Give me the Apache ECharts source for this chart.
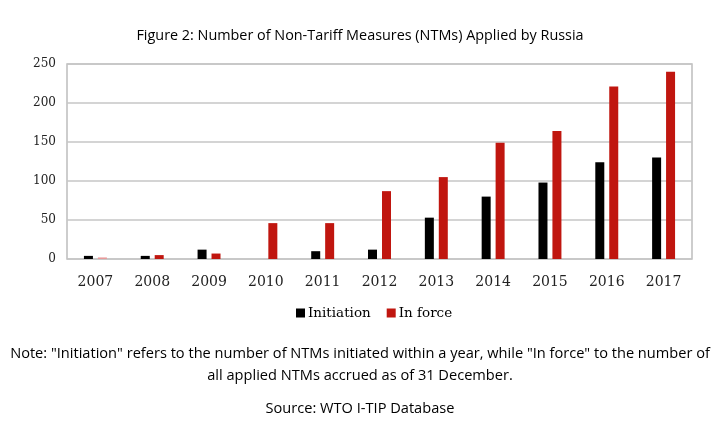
<!DOCTYPE html>
<html><head><meta charset="utf-8">
<script src="https://cdn.jsdelivr.net/npm/echarts@6/dist/echarts.min.js"></script>
<style>html,body{margin:0;padding:0;background:#fff}#c{width:720px;height:421px}</style>
</head><body><div id="c"></div>
<script>
const years = ['2007','2008','2009','2010','2011','2012','2013','2014','2015','2016','2017'];
const initiation = [4, 4, 12, 0, 10, 12, 53, 80, 98, 124, 130];
const inForce = [2, 5, 7, 46, 46, 87, 105, 149, 164, 221, 240];
const yTicks = [0, 50, 100, 150, 200, 250];
const titleText = 'Figure 2: Number of Non-Tariff Measures (NTMs) Applied by Russia';
const noteLine1 = 'Note: "Initiation" refers to the number of NTMs initiated within a year, while "In force" to the number of';
const noteLine2 = 'all applied NTMs accrued as of 31 December.';
const sourceText = 'Source: WTO I-TIP Database';

const sans = '"Open Sans", sans-serif';
const serif = '"DejaVu Serif", serif';
function txt(t, y, size) {
  return {type: 'text', left: 'center', top: y, style: {text: t, font: 'normal ' + size + 'px ' + sans, fill: '#000'}};
}
const chart = echarts.init(document.getElementById('c'), null, {renderer: 'canvas'});
chart.setOption({
  animation: false,
  graphic: [
    txt(titleText, 29, 14.4),
    txt(noteLine1, 346, 14.6),
    txt(noteLine2, 368, 14.6),
    txt(sourceText, 401, 14.6)
  ],
  legend: {
    left: 291, top: 301, itemWidth: 9, itemHeight: 9, itemGap: 16, icon: 'rect',
    textStyle: {fontFamily: serif, fontSize: 13.5, color: '#000', padding: [0,0,0,-2]},
    data: ['Initiation', 'In force']
  },
  grid: {left: 67, right: 28, top: 64, bottom: 162, show: true, borderColor: '#bdbdbd', borderWidth: 1.5},
  xAxis: {
    type: 'category', data: years,
    axisLine: {show: false}, axisTick: {show: false},
    axisLabel: {fontFamily: serif, fontSize: 14, color: '#222', margin: 16}
  },
  yAxis: {
    type: 'value', min: 0, max: 250, interval: 50,
    axisLine: {show: false}, axisTick: {show: false},
    splitLine: {lineStyle: {color: '#c6c6c6', width: 1.5}},
    axisLabel: {fontFamily: serif, fontSize: 12, color: '#222', margin: 11,
      formatter: v => yTicks.includes(v) ? String(v) : ''}
  },
  series: [
    {name: 'Initiation', type: 'bar', data: initiation, barWidth: 9, barGap: '55%', itemStyle: {color: '#000'}},
    {name: 'In force', type: 'bar', data: inForce.map((v, i) => i === 0 ? {value: v, itemStyle: {color: '#e89a9a'}} : v), barWidth: 9, itemStyle: {color: '#c0160f'}}
  ]
});
</script></body></html>
